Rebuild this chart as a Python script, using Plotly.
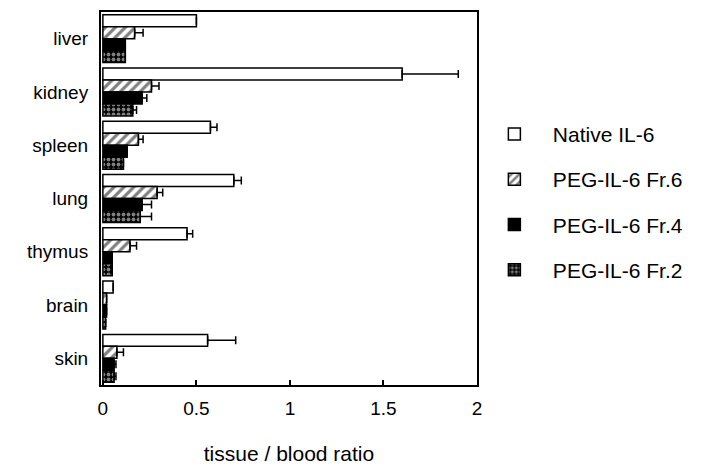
import plotly.graph_objects as go

tissues = ["liver", "kidney", "spleen", "lung", "thymus", "brain", "skin"]
series_names = ["Native IL-6", "PEG-IL-6 Fr.6", "PEG-IL-6 Fr.4", "PEG-IL-6 Fr.2"]

native = [0.50, 1.60, 0.575, 0.70, 0.45, 0.055, 0.56]
native_err = [0.0, 0.30, 0.035, 0.04, 0.03, 0.0, 0.15]
fr6 = [0.17, 0.26, 0.19, 0.29, 0.145, 0.02, 0.075]
fr6_err = [0.045, 0.04, 0.025, 0.03, 0.035, 0.0, 0.035]
fr4 = [0.12, 0.21, 0.13, 0.21, 0.05, 0.02, 0.06]
fr4_err = [0.0, 0.025, 0.0, 0.05, 0.0, 0.0, 0.01]
fr2 = [0.12, 0.16, 0.11, 0.20, 0.05, 0.015, 0.06]
fr2_err = [0.0, 0.02, 0.0, 0.06, 0.0, 0.0, 0.01]

values = [native, fr6, fr4, fr2]
errors = [native_err, fr6_err, fr4_err, fr2_err]
styles = [
    dict(color="white", pattern=dict(shape="")),
    dict(color="white", pattern=dict(shape="/", fgcolor="black", size=7, solidity=0.45)),
    dict(color="black", pattern=dict(shape="")),
    dict(color="black", pattern=dict(shape=".", fgcolor="white", size=5, solidity=0.45)),
]

fig = go.Figure()
for i, (name, v, e, st) in enumerate(zip(series_names, values, errors, styles)):
    fig.add_trace(go.Bar(
        y=tissues, x=v, name=name, orientation="h",
        legendgroup=f"g{i}",
        marker=dict(color=st["color"], pattern=st["pattern"],
                    line=dict(color="black", width=1.5)),
        error_x=dict(type="data", array=e, arrayminus=[0]*len(e), symmetric=False,
                     color="black", thickness=1.5, width=4),
    ))

fig.update_layout(
    width=704, height=469,
    margin=dict(l=93, r=235, t=4, b=92),
    paper_bgcolor="white", plot_bgcolor="white",
    barmode="group", bargap=0.1, bargroupgap=0,
    font=dict(family="Liberation Sans, Arial, sans-serif", size=19, color="black"),
    showlegend=True,
    legend=dict(x=0.997, y=0.49, xanchor="left", yanchor="middle",
                bgcolor="rgba(0,0,0,0)",
                traceorder="grouped", tracegroupgap=15,
                font=dict(size=21), itemwidth=67),
    xaxis=dict(range=[-0.01, 2.0], tickvals=[0, 0.5, 1, 1.5, 2],
               ticktext=["0", "0.5", "1", "1.5", "2"],
               ticks="inside", ticklen=5, tickwidth=1.5, tickcolor="black",
               showline=True, linecolor="black", linewidth=2, mirror=True,
               showgrid=False, zeroline=False, automargin=False,
               tickfont=dict(size=19), ticklabelstandoff=5,
               title=dict(text="tissue / blood ratio", standoff=29, font=dict(size=21))),
    yaxis=dict(autorange="reversed", showline=True, linecolor="black", linewidth=2,
               mirror=True, showgrid=False, ticks="", ticklabelstandoff=7,
               automargin=False, tickfont=dict(size=19)),
)

fig.write_html("out.html")
